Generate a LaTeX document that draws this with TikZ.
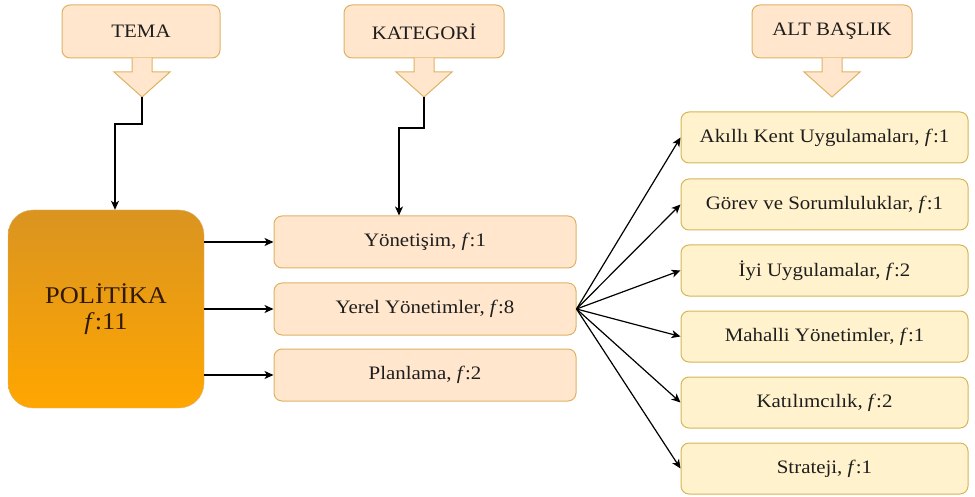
\documentclass[tikz,border=0pt]{standalone}
\usepackage{fontspec}
\setmainfont[FakeStretch=1.1]{Liberation Serif}
\usepackage{tikz}
\usetikzlibrary{arrows.meta, positioning, calc}
\tikzset{>={Stealth[length=9pt,width=8pt,inset=2.5pt]}}

\definecolor{peachFill}{RGB}{255,230,204}
\definecolor{peachLine}{RGB}{222,178,100}
\definecolor{yellowFill}{RGB}{255,242,204}
\definecolor{yellowLine}{RGB}{214,182,86}
\definecolor{polTop}{RGB}{218,148,32}
\definecolor{polBottom}{RGB}{255,166,0}
\definecolor{polText}{RGB}{50,25,5}
\definecolor{txtDark}{RGB}{30,30,30}

\tikzset{
  headbox/.style={draw=peachLine, fill=peachFill, line width=1pt, rounded corners=8pt,
    minimum width=158pt, minimum height=53pt, text=txtDark,
    font=\fontsize{19}{22}\selectfont},
  catbox/.style={draw=peachLine, fill=peachFill, line width=1pt, rounded corners=8pt,
    minimum width=302pt, minimum height=52pt, text=txtDark,
    font=\fontsize{19}{22}\selectfont},
  subbox/.style={draw=yellowLine, fill=yellowFill, line width=1pt, rounded corners=8pt,
    minimum width=287pt, minimum height=51pt, text=txtDark,
    font=\fontsize{19}{22}\selectfont},
  blockarrow/.style={draw=peachLine, fill=peachFill, line width=1pt, line join=miter},
  conn/.style={->, black, line width=1.2pt},
}

\begin{document}
\begin{tikzpicture}[x=1pt, y=1pt]
\useasboundingbox (0,0) rectangle (975,-497);

% header boxes
\node[headbox] (tema) at (141,-31.5) {TEMA};
\node[headbox, minimum width=160pt] (kategori) at (424,-31.5) {KATEGORİ};
\node[headbox, minimum width=160pt] (altbaslik) at (832,-31.5) {ALT BAŞLIK};

% block arrows under the headers
\foreach \cx/\nm in {142/temaTip, 424/katTip, 832/altTip} {
  \draw[blockarrow] (\cx-10,-58) -- (\cx-10,-72) -- (\cx-28,-72) -- (\cx,-97)
    -- (\cx+28,-72) -- (\cx+10,-72) -- (\cx+10,-58);
  \coordinate (\nm) at (\cx,-97);
}

% theme
\node[shade, top color=polTop, bottom color=polBottom, draw=polTop!90!black!60,
  rounded corners=25pt, minimum width=196pt, minimum height=198pt,
  text=polText, align=center, font=\fontsize{24}{26}\selectfont]
  (politika) at (106,-309) {POLİTİKA\\\textit{f}:11};

% categories
\node[catbox] (yonetisim) at (425,-242) {Yönetişim, \textit{f}:1};
\node[catbox] (yerel) at (425,-309) {Yerel Yönetimler, \textit{f}:8};
\node[catbox] (planlama) at (425,-375) {Planlama, \textit{f}:2};

% sub-headings
\foreach \i/\y/\txt in {1/-137.5/{Akıllı Kent Uygulamaları, \textit{f}:1},
    2/-204.5/{Görev ve Sorumluluklar, \textit{f}:1},
    3/-270.5/{İyi Uygulamalar, \textit{f}:2},
    4/-336.5/{Mahalli Yönetimler, \textit{f}:1},
    5/-402.5/{Katılımcılık, \textit{f}:2},
    6/-468.5/{Strateji, \textit{f}:1}} {
  \node[subbox] (alt\i) at (824.5,\y) {\txt};
}

% connectors
\draw[conn] (temaTip) -- ++(0,-27) -| ([xshift=9pt]politika.north);
\draw[conn] (katTip) -- ++(0,-31) -| ([xshift=-26pt]yonetisim.north);
\foreach \c in {yonetisim, yerel, planlama}
  \draw[conn] (politika.east |- \c) -- (\c.west);
\foreach \i in {1,...,6}
  \draw[conn] (yerel.east) -- (alt\i.west);

\end{tikzpicture}
\end{document}
